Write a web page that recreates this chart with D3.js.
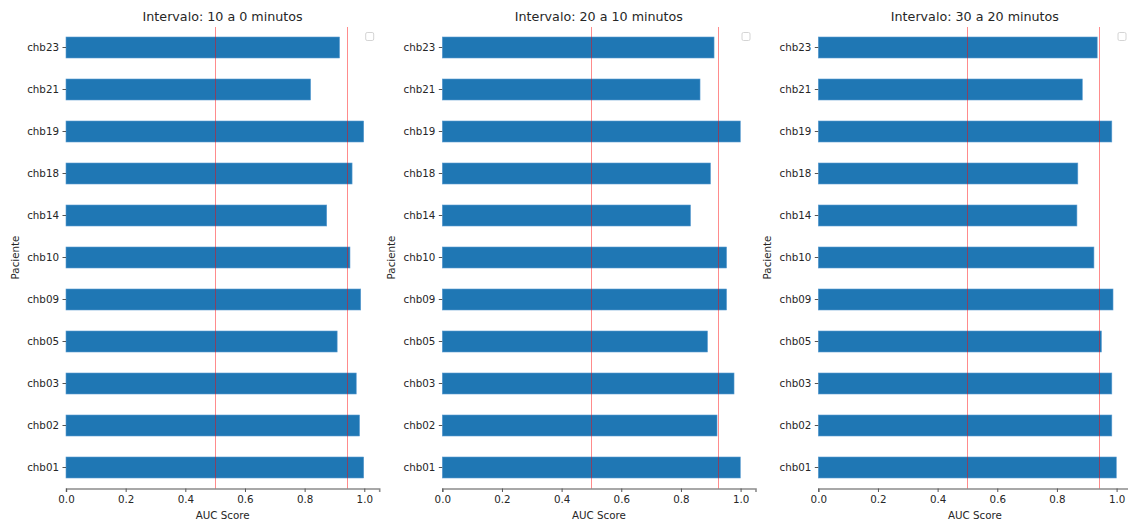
<!DOCTYPE html>
<html>
<head>
<meta charset="utf-8">
<script src="https://cdn.jsdelivr.net/npm/d3@7"></script>
<style>
  html, body { margin: 0; padding: 0; background: #fff; }
  svg { display: block; font-family: "DejaVu Sans", sans-serif; }
</style>
</head>
<body>
<svg id="chart" width="1128" height="521"></svg>
<script>
// Patients (bottom to top) and AUC score per prediction interval
const pacientes = ["chb01", "chb02", "chb03", "chb05", "chb09", "chb10", "chb14", "chb18", "chb19", "chb21", "chb23"];
const titulos = ["Intervalo: 10 a 0 minutos", "Intervalo: 20 a 10 minutos", "Intervalo: 30 a 20 minutos"];
const auc10a0  = [0.998, 0.984, 0.973, 0.909, 0.988, 0.952, 0.874, 0.959, 0.998, 0.820, 0.917];
const auc20a10 = [0.999, 0.921, 0.978, 0.889, 0.953, 0.953, 0.832, 0.899, 0.999, 0.864, 0.911];
const auc30a20 = [0.999, 0.984, 0.984, 0.949, 0.988, 0.924, 0.867, 0.870, 0.984, 0.885, 0.935];
const xTicks = [0.0, 0.2, 0.4, 0.6, 0.8, 1.0];
const chanceLevel = 0.5;

const series = [auc10a0, auc20a10, auc30a20];

const svg = d3.select("#chart");
const panelLeft = [66, 442.3, 818.3];
const plotW = 313.2;          // x domain 0 .. 1.05
const plotTop = 26.5, plotBottom = 488.5;
const textColor = "#262626";
const fontFamily = "'DejaVu Sans', sans-serif";

series.forEach((values, i) => {
  const x0 = panelLeft[i];
  const g = svg.append("g");

  const x = d3.scaleLinear().domain([0, 1.05]).range([x0, x0 + plotW]);
  const y = d3.scaleBand()
    .domain(pacientes.slice().reverse())
    .range([plotTop, plotBottom])
    .paddingInner(0.5)
    .paddingOuter(0.25);

  // bars
  g.selectAll("rect.bar")
    .data(pacientes.map((p, k) => ({ p, v: values[k] })))
    .join("rect")
    .attr("class", "bar")
    .attr("x", x(0))
    .attr("y", d => y(d.p))
    .attr("width", d => x(d.v) - x(0))
    .attr("height", y.bandwidth())
    .attr("fill", "#1f77b4")
    .attr("stroke", "#5a9bd0")
    .attr("stroke-width", 0.6);

  // reference lines: chance level and mean AUC
  const media = d3.mean(values);
  g.selectAll("line.ref")
    .data([chanceLevel, media])
    .join("line")
    .attr("class", "ref")
    .attr("x1", d => x(d)).attr("x2", d => x(d))
    .attr("y1", plotTop).attr("y2", plotBottom)
    .attr("stroke", "#ff0000")
    .attr("stroke-opacity", 0.45)
    .attr("stroke-width", 1)
    .attr("shape-rendering", "crispEdges");

  // x axis
  const xAxis = g.append("g")
    .attr("transform", `translate(0,${plotBottom})`)
    .call(d3.axisBottom(x).tickValues(xTicks).tickFormat(d3.format(".1f")).tickSizeOuter(0).tickSize(3.5).tickPadding(3.5))
    .attr("font-family", fontFamily)
    .attr("font-size", 10.3);
  xAxis.select(".domain").attr("stroke", "#8c8c8c").attr("stroke-width", 1.6);
  xAxis.selectAll(".tick line").attr("stroke", "#555");
  xAxis.selectAll("text").attr("fill", textColor);

  // y axis (no spine)
  const yAxis = g.append("g")
    .attr("transform", `translate(${x0},0)`)
    .call(d3.axisLeft(y).tickSize(3.5).tickPadding(3.5))
    .attr("font-family", fontFamily)
    .attr("font-size", 10.3);
  yAxis.select(".domain").remove();
  yAxis.selectAll(".tick line").attr("stroke", "#555");
  yAxis.selectAll("text").attr("fill", textColor);

  // titles and axis labels
  g.append("text")
    .attr("x", x0 + plotW / 2)
    .attr("y", 20.5)
    .attr("text-anchor", "middle")
    .attr("fill", textColor)
    .style("font-size", "12.7px")
    .text(titulos[i]);

  g.append("text")
    .attr("x", x0 + plotW / 2)
    .attr("y", 519)
    .attr("text-anchor", "middle")
    .attr("fill", textColor)
    .style("font-size", "10.3px")
    .text("AUC Score");

  g.append("text")
    .attr("transform", `translate(${x0 - 47},${(plotTop + plotBottom) / 2}) rotate(-90)`)
    .attr("text-anchor", "middle")
    .attr("fill", textColor)
    .style("font-size", "10.3px")
    .text("Paciente");

  // empty legend frame
  g.append("rect")
    .attr("x", x0 + plotW - 13.5)
    .attr("y", 32.5)
    .attr("width", 8)
    .attr("height", 8)
    .attr("rx", 1.5)
    .attr("fill", "#fff")
    .attr("stroke", "#d4d4d4")
    .attr("stroke-width", 1);
});
</script>
</body>
</html>
